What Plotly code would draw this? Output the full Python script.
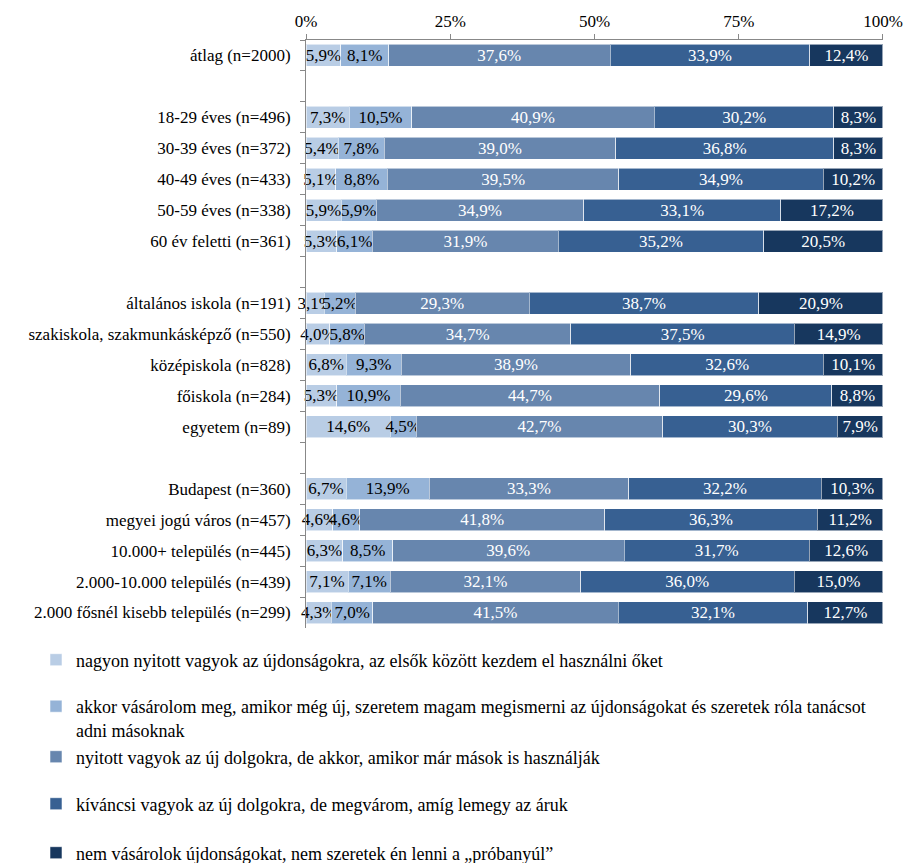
import plotly.graph_objects as go

# Row labels from top to bottom; blank strings are spacer rows between groups
categories = [
    "átlag (n=2000)",
    " ",
    "18-29 éves (n=496)",
    "30-39 éves (n=372)",
    "40-49 éves (n=433)",
    "50-59 éves (n=338)",
    "60 év feletti (n=361)",
    "  ",
    "általános iskola (n=191)",
    "szakiskola, szakmunkásképző (n=550)",
    "középiskola (n=828)",
    "főiskola (n=284)",
    "egyetem (n=89)",
    "   ",
    "Budapest (n=360)",
    "megyei jogú város (n=457)",
    "10.000+ település (n=445)",
    "2.000-10.000 település (n=439)",
    "2.000 fősnél kisebb település (n=299)",
]
rows = [c for c in categories if c.strip()]

series_names = [
    "nagyon nyitott vagyok az újdonságokra, az elsők között kezdem el használni őket",
    "akkor vásárolom meg, amikor még új, szeretem magam megismerni az újdonságokat és szeretek róla tanácsot<br>adni másoknak",
    "nyitott vagyok az új dolgokra, de akkor, amikor már mások is használják",
    "kíváncsi vagyok az új dolgokra, de megvárom, amíg lemegy az áruk",
    "nem vásárolok újdonságokat, nem szeretek én lenni a „próbanyúl”",
]

s1 = [5.9, 7.3, 5.4, 5.1, 5.9, 5.3, 3.1, 4.0, 6.8, 5.3, 14.6, 6.7, 4.6, 6.3, 7.1, 4.3]
s2 = [8.1, 10.5, 7.8, 8.8, 5.9, 6.1, 5.2, 5.8, 9.3, 10.9, 4.5, 13.9, 4.6, 8.5, 7.1, 7.0]
s3 = [37.6, 40.9, 39.0, 39.5, 34.9, 31.9, 29.3, 34.7, 38.9, 44.7, 42.7, 33.3, 41.8, 39.6, 32.1, 41.5]
s4 = [33.9, 30.2, 36.8, 34.9, 33.1, 35.2, 38.7, 37.5, 32.6, 29.6, 30.3, 32.2, 36.3, 31.7, 36.0, 32.1]
s5 = [12.4, 8.3, 8.3, 10.2, 17.2, 20.5, 20.9, 14.9, 10.1, 8.8, 7.9, 10.3, 11.2, 12.6, 15.0, 12.7]

colors = ["#B9CDE5", "#95B3D7", "#6786AE", "#376092", "#17375E"]
text_colors = ["black", "black", "white", "white", "white"]

FONT = "Liberation Serif"
FS = 17
LEG_FS = 18

# layout geometry (px) and legend item vertical centres
W, H = 905, 863
L, R, T, B = 306, 22, 40, 235
plot_h = H - T - B
plot_w = W - L - R
legend_y_px = [660, 718, 757, 804, 853]
legend_x_px = 36


def fmt(v):
    return f"{v:.1f}%".replace(".", ",")


fig = go.Figure()
for i, (name, vals) in enumerate(zip(series_names, [s1, s2, s3, s4, s5])):
    lg = "legend" if i == 0 else f"legend{i + 1}"
    fig.add_trace(go.Bar(
        name=name,
        y=rows,
        x=vals,
        orientation="h",
        marker=dict(color=colors[i], line=dict(color="rgba(255,255,255,0.55)", width=1)),
        text=[fmt(v) for v in vals],
        textposition="inside",
        insidetextanchor="middle",
        constraintext="none",
        textangle=0,
        cliponaxis=False,
        textfont=dict(family=FONT, size=FS, color=text_colors[i]),
        hoverinfo="skip",
        legend=lg,
    ))

legend_common = dict(
    font=dict(family=FONT, size=LEG_FS, color="black"),
    xanchor="left",
    yanchor="middle",
    bgcolor="rgba(0,0,0,0)",
    valign="top",
)
legend_layout = {}
for i, ypx in enumerate(legend_y_px):
    key = "legend" if i == 0 else f"legend{i + 1}"
    legend_layout[key] = dict(
        legend_common,
        x=(legend_x_px - L) / plot_w,
        y=(H - B - ypx) / plot_h,
    )

fig.update_layout(
    template="none",
    width=W,
    height=H,
    margin=dict(l=L, r=R, t=T, b=B, pad=0, autoexpand=False),
    barmode="stack",
    barnorm="percent",
    bargap=0.29,
    plot_bgcolor="white",
    paper_bgcolor="white",
    font=dict(family=FONT, size=FS, color="black"),
    showlegend=True,
    **legend_layout,
)

fig.update_xaxes(
    side="top",
    range=[0, 100.001],
    tickvals=[0, 25, 50, 75, 100],
    ticktext=["0%", "25%", "50%", "75%", "100%"],
    ticks="outside",
    ticklen=5,
    tickcolor="#888888",
    showline=True,
    linecolor="#888888",
    linewidth=1,
    showgrid=False,
    zeroline=False,
    tickfont=dict(family=FONT, size=FS, color="black"),
    fixedrange=True,
)
fig.update_yaxes(
    type="category",
    categoryorder="array",
    categoryarray=categories,
    range=[len(categories) - 0.5, -0.5],
    ticks="outside",
    ticklen=5,
    tickcolor="#888888",
    tickson="boundaries",
    showline=True,
    linecolor="#888888",
    linewidth=1,
    showgrid=False,
    zeroline=False,
    ticklabelstandoff=11,
    tickfont=dict(family=FONT, size=FS, color="black"),
    fixedrange=True,
)

fig.write_html("out.html")
